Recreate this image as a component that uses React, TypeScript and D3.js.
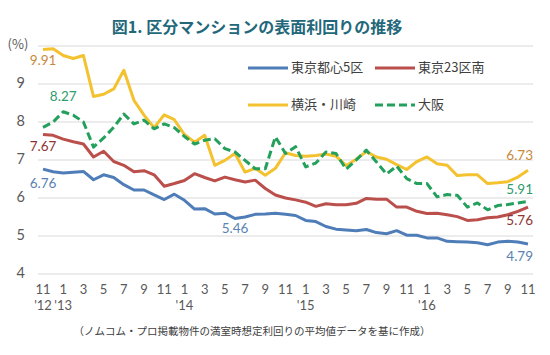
import React from "react";
import * as d3 from "d3";

const months: string[] = [
  "2012-11","2012-12","2013-01","2013-02","2013-03","2013-04","2013-05","2013-06","2013-07","2013-08","2013-09","2013-10","2013-11","2013-12",
  "2014-01","2014-02","2014-03","2014-04","2014-05","2014-06","2014-07","2014-08","2014-09","2014-10","2014-11","2014-12",
  "2015-01","2015-02","2015-03","2015-04","2015-05","2015-06","2015-07","2015-08","2015-09","2015-10","2015-11","2015-12",
  "2016-01","2016-02","2016-03","2016-04","2016-05","2016-06","2016-07","2016-08","2016-09","2016-10","2016-11",
];

const tokyo5: number[] = [
  6.76, 6.69, 6.66, 6.68, 6.70, 6.48, 6.61, 6.54, 6.35, 6.21, 6.21, 6.08, 5.96, 6.10, 5.94, 5.71, 5.72, 5.58, 5.60, 5.46,
  5.50, 5.57, 5.58, 5.60, 5.57, 5.54, 5.41, 5.38, 5.25, 5.18, 5.16, 5.14, 5.17, 5.09, 5.06, 5.14, 5.02, 5.02, 4.95, 4.95,
  4.86, 4.85, 4.84, 4.82, 4.77, 4.84, 4.86, 4.84, 4.79,
];
const tokyo23s: number[] = [
  7.67, 7.65, 7.55, 7.48, 7.42, 7.08, 7.23, 6.96, 6.86, 6.69, 6.72, 6.61, 6.31, 6.38, 6.46, 6.64, 6.54, 6.45, 6.55, 6.48,
  6.42, 6.47, 6.25, 6.08, 6.00, 5.95, 5.89, 5.78, 5.85, 5.82, 5.82, 5.86, 5.99, 5.97, 5.97, 5.76, 5.76, 5.65, 5.59, 5.60,
  5.56, 5.51, 5.41, 5.43, 5.48, 5.50, 5.56, 5.65, 5.76,
];
const yokohama: number[] = [
  9.91, 9.93, 9.75, 9.67, 9.75, 8.67, 8.73, 8.87, 9.36, 8.57, 8.18, 7.85, 8.19, 8.06, 7.67, 7.47, 7.65, 6.86, 6.99, 7.17,
  6.68, 6.78, 6.60, 6.78, 7.19, 7.12, 7.10, 7.12, 7.16, 7.10, 6.85, 7.02, 7.22, 7.08, 7.02, 6.88, 6.75, 6.96, 7.08, 6.90,
  6.86, 6.59, 6.61, 6.61, 6.38, 6.40, 6.43, 6.55, 6.73,
];
const osaka: number[] = [
  7.86, 8.00, 8.27, 8.18, 8.00, 7.34, 7.58, 7.86, 8.21, 7.95, 8.05, 7.82, 7.95, 7.85, 7.62, 7.42, 7.52, 7.56, 7.30, 7.21,
  6.99, 6.77, 6.77, 7.61, 7.17, 7.35, 6.82, 6.92, 7.21, 7.17, 6.76, 7.00, 7.26, 6.95, 6.63, 6.84, 6.51, 6.38, 6.38, 6.03,
  6.09, 6.07, 5.76, 5.87, 5.69, 5.80, 5.83, 5.87, 5.91,
];

const seriesNames: string[] = ["東京都心5区", "東京23区南", "横浜・川崎", "大阪"];
const yTicks: number[] = [4, 5, 6, 7, 8, 9];
const yTop = 10;
const yUnitLabel = "(%)";
const monthTickLabels: string[] = months.map((m, i) => (i % 2 === 0 ? String(+m.slice(5)) : ""));
const yearTickLabels: { cat: string; label: string }[] = [
  { cat: "2012-11", label: "'12" },
  { cat: "2013-01", label: "'13" },
  { cat: "2014-01", label: "'14" },
  { cat: "2015-01", label: "'15" },
  { cat: "2016-01", label: "'16" },
];
const title = "図1. 区分マンションの表面利回りの推移";
const footnote = "（ノムコム・プロ掲載物件の満室時想定利回りの平均値データを基に作成）";

const FONT = "'Noto Sans CJK JP', 'Noto Sans', sans-serif";
const NUM_FONT = "Lato, 'Noto Sans', sans-serif";

export default function App() {
  const W = 550, H = 355;
  const x = d3.scalePoint<string>().domain(months).range([43, 528]);
  const y = d3.scaleLinear().domain([4, 10]).range([274, 46]);
  const gridX0 = 38, gridX1 = 533;

  const series = [
    { name: seriesNames[0], data: tokyo5, color: "#4F7DB8", dash: undefined as string | undefined, labelColor: "#5A82B4" },
    { name: seriesNames[1], data: tokyo23s, color: "#BA4F4B", dash: undefined, labelColor: "#8E3634" },
    { name: seriesNames[2], data: yokohama, color: "#F4C12F", dash: undefined, labelColor: "#C8893B" },
    { name: seriesNames[3], data: osaka, color: "#23A05C", dash: "8 4", labelColor: "#2E9C6E" },
  ];

  const line = d3
    .line<number>()
    .x((_, i) => x(months[i]) as number)
    .y((d) => y(d))
    .curve(d3.curveLinear);

  // data labels: [series index, point index, dx, dy, anchor]
  const dataLabels: [number, number, number, number, string][] = [
    [2, 0, 0, 12, "middle"],
    [3, 2, 0, -14, "middle"],
    [1, 0, 0, 13, "middle"],
    [0, 0, 0, 15, "middle"],
    [0, 19, 0, 11, "middle"],
    [2, 48, 5, -14, "end"],
    [3, 48, 5, -11, "end"],
    [1, 48, 5, 14, "end"],
    [0, 48, 5, 14, "end"],
  ];

  const legendPos = [
    { x: 248, y: 68 },
    { x: 375, y: 68 },
    { x: 248, y: 105 },
    { x: 375, y: 105 },
  ];

  return (
    <svg width={W} height={H} style={{ position: "absolute", left: 0, top: 0, background: "#fff" }} fontFamily={FONT}>
      <rect width={W} height={H} fill="#fff" />
      <text x={257} y={29} textAnchor="middle" dominantBaseline="middle" fontSize={16} fontWeight="bold" fill="#23687A">
        {title}
      </text>

      {/* grid */}
      {[...yTicks, yTop].map((t) => (
        <line key={t} x1={gridX0} x2={gridX1} y1={y(t)} y2={y(t)} stroke="#D9D9D9" strokeWidth={1} />
      ))}
      {yTicks.map((t) => (
        <text key={t} x={25} y={y(t)} textAnchor="end" dominantBaseline="middle" fontSize={14.5} fontFamily={NUM_FONT} fill="#595959">
          {t}
        </text>
      ))}
      <text x={18} y={y(yTop) - 1} textAnchor="middle" dominantBaseline="middle" fontSize={13} fill="#595959">
        {yUnitLabel}
      </text>

      {/* x ticks */}
      {months.map((m, i) =>
        monthTickLabels[i] ? (
          <text key={m} x={x(m)} y={291} textAnchor="middle" dominantBaseline="middle" fontSize={13} fontFamily={NUM_FONT} fill="#595959">
            {monthTickLabels[i]}
          </text>
        ) : null
      )}
      {yearTickLabels.map((yl) => (
        <text key={yl.cat} x={x(yl.cat)} y={307} textAnchor="middle" dominantBaseline="middle" fontSize={13} fontFamily={NUM_FONT} fill="#595959">
          {yl.label}
        </text>
      ))}

      {/* lines */}
      {series.map((s) => (
        <path
          key={s.name}
          d={line(s.data) || ""}
          fill="none"
          stroke={s.color}
          strokeWidth={3}
          strokeDasharray={s.dash}
          strokeLinejoin="round"
        />
      ))}

      {/* data labels */}
      {dataLabels.map(([si, pi, dx, dy, anchor], k) => {
        const s = series[si];
        return (
          <text
            key={k}
            x={(x(months[pi]) as number) + dx}
            y={y(s.data[pi]) + dy}
            textAnchor={anchor}
            dominantBaseline="middle"
            fontSize={13.5}
            fontFamily={NUM_FONT}
            fill={s.labelColor}
          >
            {s.data[pi].toFixed(2)}
          </text>
        );
      })}

      {/* legend */}
      {series.map((s, i) => (
        <g key={s.name} transform={`translate(${legendPos[i].x},${legendPos[i].y})`}>
          <line x1={0} x2={40} y1={0} y2={0} stroke={s.color} strokeWidth={3} strokeDasharray={s.dash} />
          <text x={43} y={0} dominantBaseline="middle" fontSize={13} fill="#404040">
            {s.name}
          </text>
        </g>
      ))}

      <text x={252} y={332} textAnchor="middle" dominantBaseline="middle" fontSize={10.5} fill="#404040">
        {footnote}
      </text>
    </svg>
  );
}
